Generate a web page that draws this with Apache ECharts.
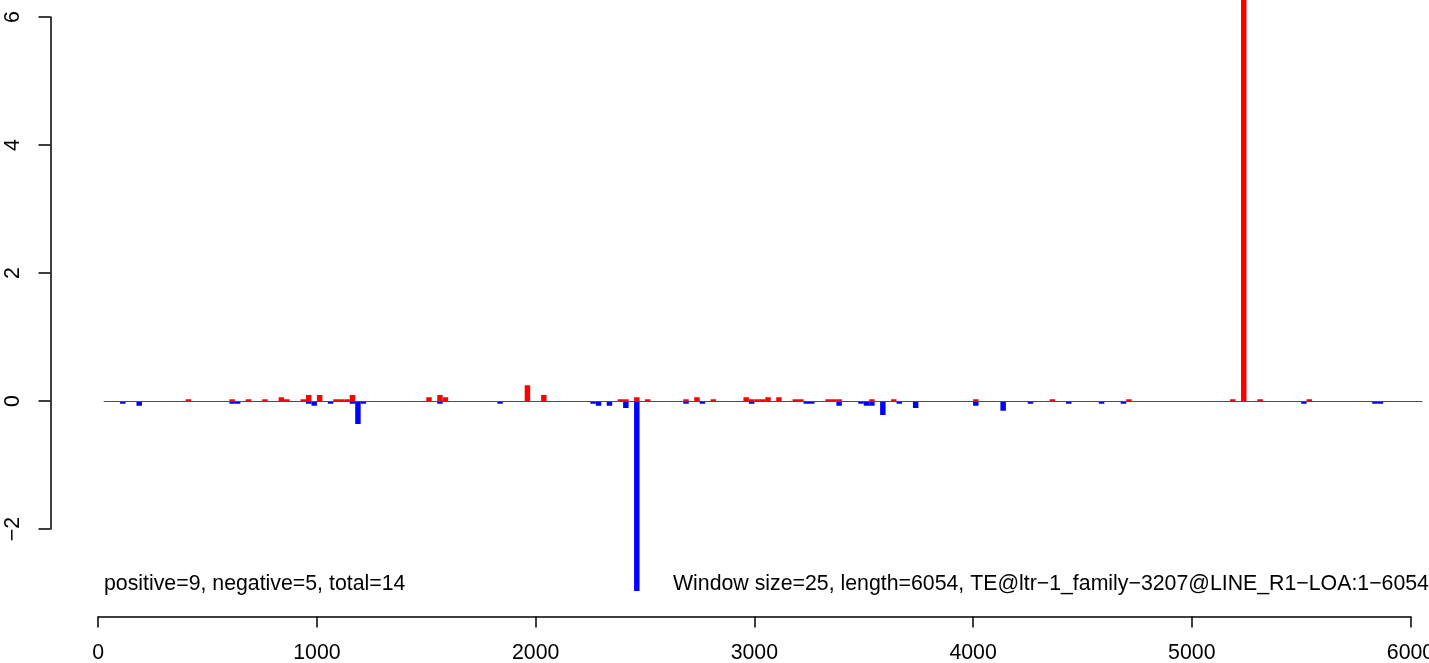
<!DOCTYPE html>
<html>
<head>
<meta charset="utf-8">
<script src="https://cdn.jsdelivr.net/npm/echarts@6/dist/echarts.min.js"></script>
<style>
html,body{margin:0;padding:0;background:#fff;}
#chart{width:1429px;height:663px;}
</style>
</head>
<body>
<div id="chart"></div>
<script>
// ---- data ----
const WINDOW = 25;
const SEQ_LENGTH = 6054;
const posStarts = [400,600,675,750,825,850,925,950,1000,1075,1100,1125,1150,1500,1550,1575,1950,2025,2375,2400,2450,2500,2675,2725,2800,2950,2975,3000,3025,3050,3100,3175,3200,3325,3350,3375,3525,3625,4000,4350,4700,5175,5225,5300,5525];
const posValues = [0.036,0.036,0.036,0.036,0.068,0.036,0.036,0.1,0.1,0.036,0.036,0.036,0.1,0.068,0.1,0.068,0.255,0.1,0.036,0.036,0.068,0.036,0.036,0.068,0.036,0.068,0.036,0.036,0.036,0.068,0.068,0.036,0.036,0.036,0.036,0.036,0.036,0.036,0.036,0.036,0.036,0.036,8.36,0.036,0.036];
const negStarts = [100,175,600,625,950,975,1050,1150,1175,1200,1550,1825,2250,2275,2325,2400,2450,2675,2750,2975,3225,3250,3375,3475,3500,3525,3575,3650,3725,4000,4125,4250,4425,4575,4675,5500,5825,5850];
const negValues = [-0.036,-0.068,-0.036,-0.036,-0.036,-0.068,-0.036,-0.036,-0.35,-0.036,-0.036,-0.036,-0.036,-0.068,-0.068,-0.1,-2.96,-0.036,-0.036,-0.036,-0.036,-0.036,-0.068,-0.036,-0.068,-0.068,-0.21,-0.036,-0.1,-0.068,-0.146,-0.036,-0.036,-0.036,-0.036,-0.036,-0.036,-0.036];
const xTicks = [0,1000,2000,3000,4000,5000,6000];
const yTicks = [-2,0,2,4,6];
const leftNote = "positive=9, negative=5, total=14";
const rightNote = "Window size=25, length=6054, TE@ltr\u22121_family\u22123207@LINE_R1\u2212LOA:1\u22126054";

// ---- chart ----
const FONT = "'Liberation Sans', Arial, Helvetica, sans-serif";
const PX_PER_UNIT_X = 0.21872;
const chart = echarts.init(document.getElementById('chart'), null, {renderer:'canvas'});

function barItem(color){
  return function(params, api){
    const s = api.value(0), v = api.value(1);
    const p0 = api.coord([s, 0]);
    const p1 = api.coord([s + WINDOW, v]);
    return {
      type:'rect',
      shape:{x:p0[0], y:Math.min(p0[1],p1[1]), width:p1[0]-p0[0], height:Math.abs(p1[1]-p0[1])},
      style:{fill:color}
    };
  };
}

const option = {
  animation:false,
  backgroundColor:'#ffffff',
  grid:[
    {left:98.2, top:0, width:6100*PX_PER_UNIT_X, height:625.5, outerBoundsMode:'none', containLabel:false},    // data
    {left:98.2, top:600, width:6000*PX_PER_UNIT_X, height:16.5, outerBoundsMode:'none', containLabel:false},   // x axis
    {left:50.5, top:17, width:100, height:512, outerBoundsMode:'none', containLabel:false}                     // y axis
  ],
  xAxis:[
    {gridIndex:0, type:'value', min:0, max:6100, show:false},
    {gridIndex:1, type:'value', min:xTicks[0], max:xTicks[xTicks.length-1], interval:1000,
     axisLine:{show:true, lineStyle:{color:'#000', width:1.5}},
     axisTick:{show:true, length:11, lineStyle:{color:'#000', width:1.5}},
     splitLine:{show:false},
     axisLabel:{show:true, margin:26, fontSize:21.3, color:'#000', fontFamily:FONT,
       showMinLabel:true, showMaxLabel:true, hideOverlap:false, formatter:v=>String(v)}},
    {gridIndex:2, type:'value', show:false}
  ],
  yAxis:[
    {gridIndex:0, type:'value', min:-3.5, max:6.2734375, show:false},
    {gridIndex:1, type:'value', show:false},
    {gridIndex:2, type:'value', min:yTicks[0], max:yTicks[yTicks.length-1], interval:2, position:'left',
     axisLine:{show:true, lineStyle:{color:'#000', width:1.5}},
     axisTick:{show:true, length:12, lineStyle:{color:'#000', width:1.5}},
     splitLine:{show:false},
     axisLabel:{show:true, rotate:90, margin:27, fontSize:21.3, color:'#000', fontFamily:FONT,
       formatter:v=>String(v).replace('-', '\u2212')}}
  ],
  series:[
    {type:'custom', xAxisIndex:0, yAxisIndex:0, clip:true, renderItem:barItem('#ff0000'),
     data:posStarts.map((s,i)=>[s,posValues[i]]), z:2},
    {type:'custom', xAxisIndex:0, yAxisIndex:0, clip:true, renderItem:barItem('#0000ff'),
     data:negStarts.map((s,i)=>[s,negValues[i]]), z:2},
    {type:'line', xAxisIndex:0, yAxisIndex:0, data:[[WINDOW,0],[SEQ_LENGTH,0]], showSymbol:false, symbol:'none',
     lineStyle:{color:'#4d4d4d', width:1.2}, silent:true, z:3}
  ],
  graphic:[
    {type:'text', left:104, top:574, style:{text:leftNote, font:'21.3px '+FONT, fill:'#000'}},
    {type:'text', left:673, top:574, style:{text:rightNote, font:'21.3px '+FONT, fill:'#000'}}
  ]
};
chart.setOption(option);
</script>
</body>
</html>
